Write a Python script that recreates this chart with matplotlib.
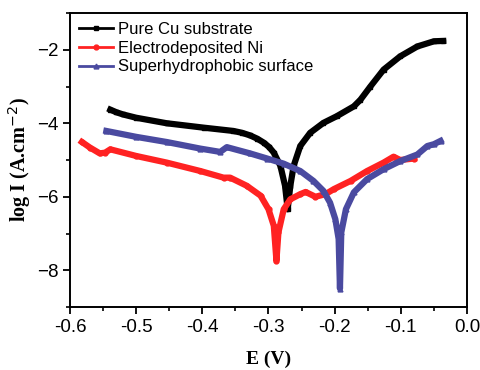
import numpy as np
import matplotlib.pyplot as plt
from matplotlib.ticker import MultipleLocator

# Tafel curves: E (V) and log I (A.cm-2)
cu_E = [-0.539, -0.53, -0.52, -0.5, -0.454, -0.398, -0.353, -0.34, -0.328, -0.317, -0.307,
        -0.299, -0.292, -0.282, -0.275, -0.271, -0.267, -0.262, -0.252, -0.237, -0.217,
        -0.197, -0.171, -0.161, -0.146, -0.126, -0.101, -0.075, -0.05, -0.036]
cu_logI = [-3.63, -3.7, -3.76, -3.85, -4.0, -4.12, -4.21, -4.26, -4.33, -4.42, -4.53,
           -4.65, -4.8, -5.16, -5.7, -6.34, -5.7, -5.16, -4.62, -4.26, -3.99,
           -3.81, -3.54, -3.36, -3.0, -2.54, -2.18, -1.91, -1.77, -1.76]

ni_E = [-0.582, -0.57, -0.555, -0.547, -0.539, -0.5, -0.454, -0.403, -0.368, -0.358,
        -0.333, -0.312, -0.3, -0.292, -0.288, -0.285, -0.277, -0.267, -0.252,
        -0.244, -0.229, -0.214, -0.201, -0.176, -0.151, -0.126, -0.111, -0.101, -0.08]
ni_logI = [-4.51, -4.66, -4.82, -4.8, -4.71, -4.89, -5.07, -5.3, -5.48, -5.48,
           -5.7, -5.97, -6.34, -6.79, -7.74, -6.97, -6.34, -6.07, -5.93,
           -5.87, -6.0, -5.93, -5.79, -5.57, -5.3, -5.07, -4.91, -5.0, -4.96]

sh_E = [-0.545, -0.5, -0.454, -0.403, -0.373, -0.363, -0.328, -0.302, -0.277, -0.252,
        -0.232, -0.217, -0.207, -0.199, -0.194, -0.192, -0.19, -0.183, -0.171,
        -0.151, -0.126, -0.101, -0.075, -0.06, -0.05, -0.04]
sh_logI = [-4.21, -4.37, -4.51, -4.69, -4.78, -4.65, -4.82, -4.96, -5.1, -5.3,
           -5.57, -5.84, -6.16, -6.61, -7.15, -8.5, -6.97, -6.34, -5.88,
           -5.52, -5.25, -5.03, -4.85, -4.62, -4.57, -4.48]

labels = ['Pure Cu substrate', 'Electrodeposited Ni', 'Superhydrophobic surface']

fig = plt.figure(figsize=(4.81, 3.70), dpi=100)
ax = fig.add_axes([70 / 481, 1 - 307 / 370, 397 / 481, 294 / 370])

ax.plot(cu_E, cu_logI, color='black', lw=4.5, marker='s', ms=3.5, label=labels[0])
ax.plot(ni_E, ni_logI, color='#ff2222', lw=4.5, marker='o', ms=3.5, label=labels[1])
ax.plot(sh_E, sh_logI, color='#4a4aa0', lw=4.5, marker='^', ms=3.5, label=labels[2])

ax.set_xlim(-0.6, 0.0)
ax.set_ylim(-9, -1)
ax.xaxis.set_major_locator(MultipleLocator(0.1))
ax.xaxis.set_minor_locator(MultipleLocator(0.05))
ax.yaxis.set_major_locator(MultipleLocator(2))
ax.yaxis.set_minor_locator(MultipleLocator(1))
ax.xaxis.set_major_formatter(plt.FuncFormatter(lambda v, p: '%.1f' % v))
ax.tick_params(which='major', direction='out', length=5, width=1.3,
               labelsize=13.5, labelfontfamily='Liberation Sans')
ax.tick_params(which='minor', direction='out', length=3, width=1.2)
for s in ax.spines.values():
    s.set_linewidth(1.4)

plt.rcParams['mathtext.fontset'] = 'custom'
plt.rcParams['mathtext.rm'] = 'Liberation Serif:bold'
plt.rcParams['mathtext.default'] = 'rm'

ax.set_xlabel('E (V)', fontsize=14, fontweight='bold', family='Liberation Serif', labelpad=11)
ax.set_ylabel('log I (A.cm$^{-2}$)', fontsize=14.5, fontweight='bold',
              family='Liberation Serif', labelpad=3)

leg = ax.legend(loc='upper left', frameon=False, handlelength=2.0, handletextpad=0.35,
                labelspacing=0.22, borderaxespad=0.15,
                prop={'family': 'Liberation Sans', 'size': 12})
for h in leg.legend_handles:
    h.set_linewidth(2)

fig.savefig('out.png', dpi=100)
